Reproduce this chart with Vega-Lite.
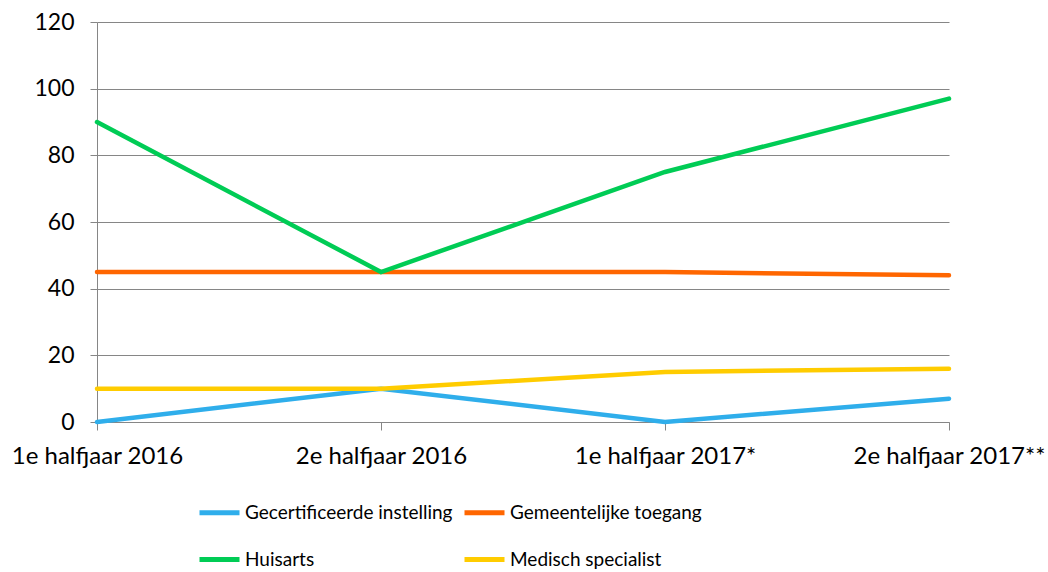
{
  "$schema": "https://vega.github.io/schema/vega-lite/v6.json",
  "width": 852,
  "height": 400,
  "autosize": {"type": "none"},
  "padding": {"left": 97, "top": 22, "right": 99, "bottom": 150},
  "background": "white",
  "config": {"view": {"stroke": null}, "font": "Lato"},
  "data": {"values": [
    {"periode": "1e halfjaar 2016", "serie": "Gecertificeerde instelling", "waarde": 0},
    {"periode": "2e halfjaar 2016", "serie": "Gecertificeerde instelling", "waarde": 10},
    {"periode": "1e halfjaar 2017*", "serie": "Gecertificeerde instelling", "waarde": 0},
    {"periode": "2e halfjaar 2017**", "serie": "Gecertificeerde instelling", "waarde": 7},
    {"periode": "1e halfjaar 2016", "serie": "Gemeentelijke toegang", "waarde": 45},
    {"periode": "2e halfjaar 2016", "serie": "Gemeentelijke toegang", "waarde": 45},
    {"periode": "1e halfjaar 2017*", "serie": "Gemeentelijke toegang", "waarde": 45},
    {"periode": "2e halfjaar 2017**", "serie": "Gemeentelijke toegang", "waarde": 44},
    {"periode": "1e halfjaar 2016", "serie": "Huisarts", "waarde": 90},
    {"periode": "2e halfjaar 2016", "serie": "Huisarts", "waarde": 45},
    {"periode": "1e halfjaar 2017*", "serie": "Huisarts", "waarde": 75},
    {"periode": "2e halfjaar 2017**", "serie": "Huisarts", "waarde": 97},
    {"periode": "1e halfjaar 2016", "serie": "Medisch specialist", "waarde": 10},
    {"periode": "2e halfjaar 2016", "serie": "Medisch specialist", "waarde": 10},
    {"periode": "1e halfjaar 2017*", "serie": "Medisch specialist", "waarde": 15},
    {"periode": "2e halfjaar 2017**", "serie": "Medisch specialist", "waarde": 16}
  ]},
  "mark": {"type": "line", "strokeWidth": 4.5, "strokeCap": "round"},
  "encoding": {
    "x": {
      "field": "periode", "type": "ordinal",
      "sort": ["1e halfjaar 2016", "2e halfjaar 2016", "1e halfjaar 2017*", "2e halfjaar 2017**"],
      "scale": {"type": "point", "padding": 0},
      "axis": {
        "title": null, "labelAngle": 0, "labelFontSize": 24, "labelColor": "#000000",
        "labelPadding": 14, "tickSize": 8, "tickColor": "#868686", "domainColor": "#868686",
        "labelFont": "Lato", "grid": false, "labelLimit": 0
      }
    },
    "y": {
      "field": "waarde", "type": "quantitative",
      "scale": {"domain": [0, 120], "nice": false},
      "axis": {
        "title": null, "values": [0, 20, 40, 60, 80, 100, 120],
        "labelFontSize": 23, "labelColor": "#000000", "labelPadding": 16,
        "tickSize": 7, "tickColor": "#868686", "domainColor": "#868686",
        "gridColor": "#868686", "grid": true, "labelFont": "Lato"
      }
    },
    "color": {
      "field": "serie", "type": "nominal",
      "scale": {
        "domain": ["Gecertificeerde instelling", "Huisarts", "Gemeentelijke toegang", "Medisch specialist"],
        "range": ["#2FAEEB", "#00CC55", "#FF6600", "#FFCC00"]
      },
      "legend": {
        "title": null, "orient": "none", "legendX": 100, "legendY": 468,
        "columns": 2, "symbolType": "stroke", "symbolSize": 1600, "symbolStrokeWidth": 5,
        "labelFontSize": 19, "labelColor": "#000000", "labelFont": "Lato", "labelLimit": 0,
        "columnPadding": 1, "rowPadding": 14, "labelOffset": 3, "symbolOffset": 0
      }
    }
  }
}
